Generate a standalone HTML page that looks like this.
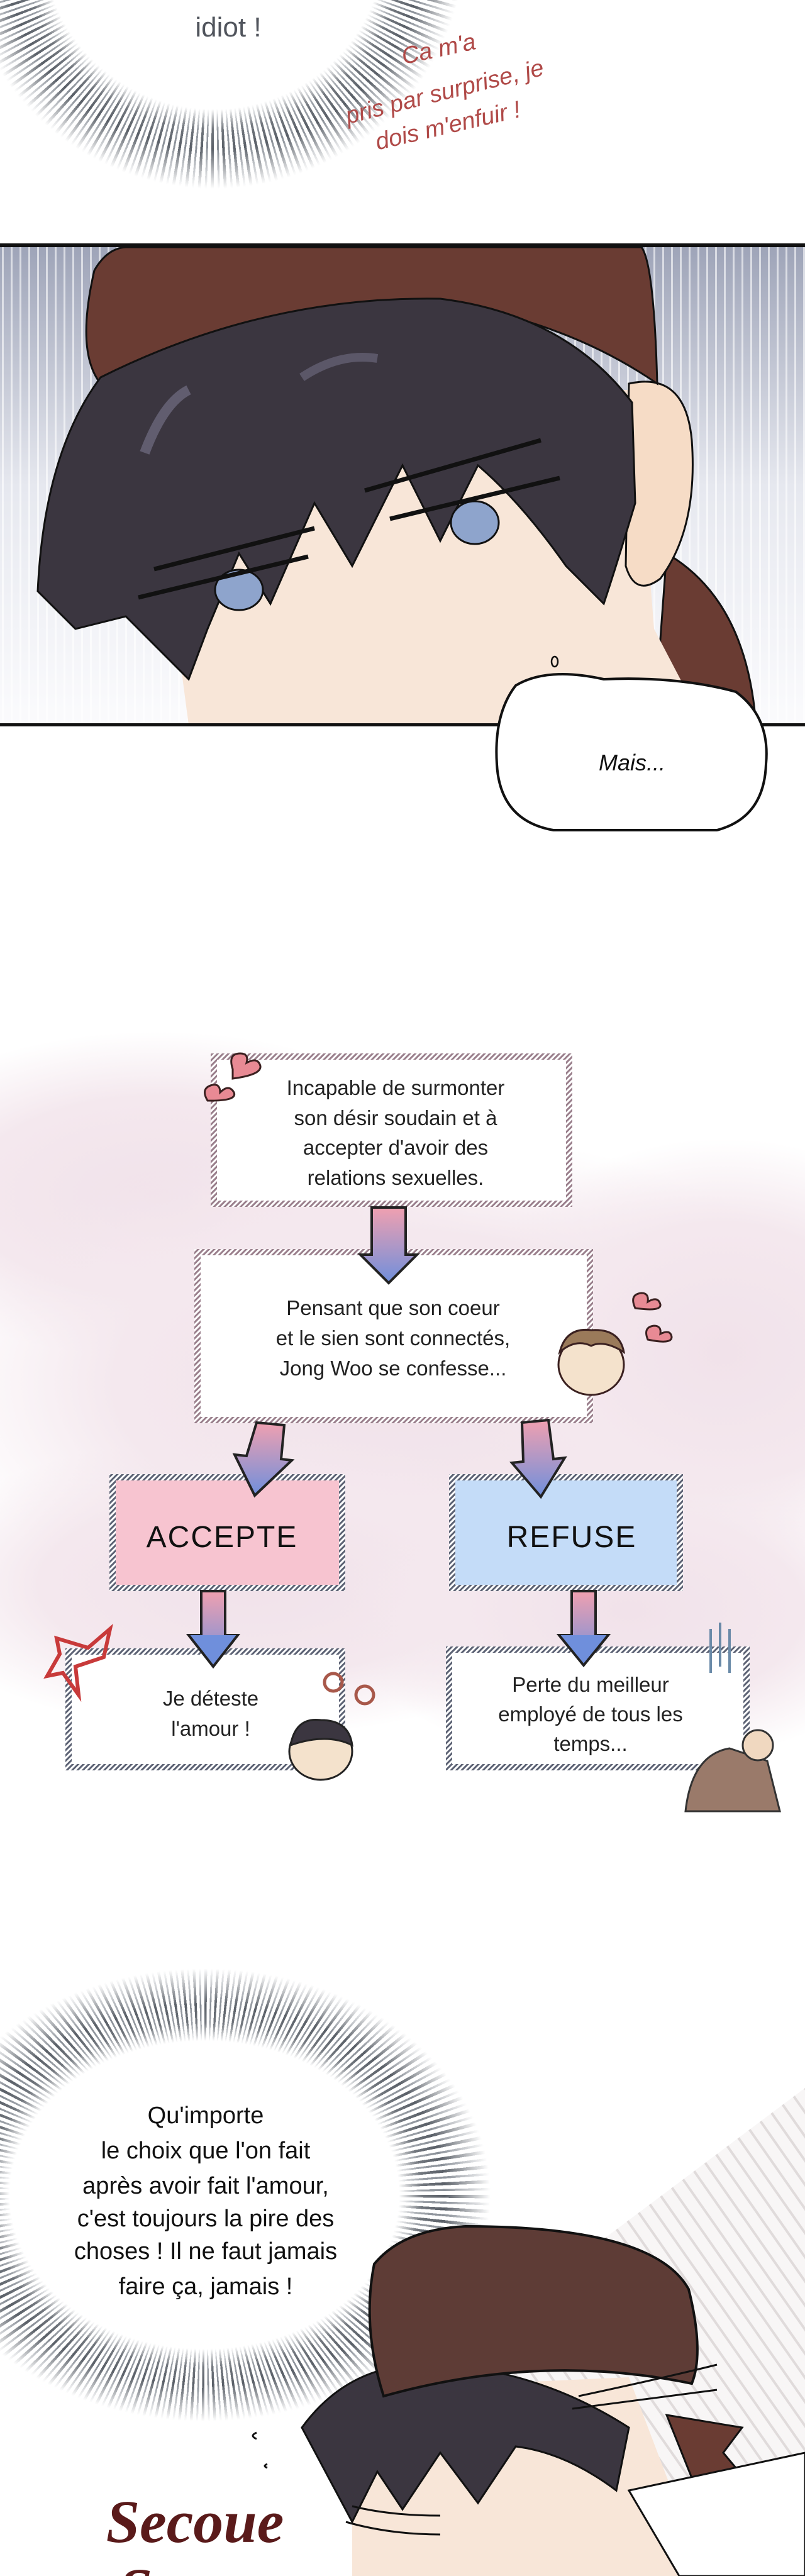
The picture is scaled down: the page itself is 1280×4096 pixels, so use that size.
<!DOCTYPE html>
<html><head><meta charset="utf-8"><style>
html,body{margin:0;padding:0;background:#fff}
body{width:1280px;height:4096px;position:relative;overflow:hidden;font-family:"Liberation Sans",sans-serif}
svg{position:absolute;left:0;top:0}
.burst{position:absolute;border-radius:50%;
background:repeating-conic-gradient(from 0deg,#5a6068 0deg 0.7deg,#ffffff 0.7deg 1.6deg,#8a9098 1.6deg 2.1deg,#fff 2.1deg 3deg);
-webkit-mask:radial-gradient(closest-side,transparent 68%,rgba(0,0,0,.85) 76%,#000 84%,transparent 100%);
mask:radial-gradient(closest-side,transparent 68%,rgba(0,0,0,.85) 76%,#000 84%,transparent 100%);}
</style></head><body>
<svg width="1280" height="4096" viewBox="0 0 1280 4096" xmlns="http://www.w3.org/2000/svg">
<defs>
<linearGradient id="panelbg" x1="0" y1="0" x2="0" y2="1">
<stop offset="0" stop-color="#9ea4b8"/><stop offset="0.5" stop-color="#e6e8ef"/><stop offset="1" stop-color="#fbfbfd"/>
</linearGradient>
<pattern id="vstripes" width="14" height="10" patternUnits="userSpaceOnUse">
<rect x="3" width="3" height="10" fill="#fff" opacity="0.6"/>
</pattern>
<linearGradient id="arr" x1="0" y1="0" x2="0" y2="1">
<stop offset="0" stop-color="#f0a0b0"/><stop offset="1" stop-color="#6f8fdc"/>
</linearGradient>
<pattern id="hatchP" width="6" height="6" patternUnits="userSpaceOnUse" patternTransform="rotate(45)">
<rect width="6" height="6" fill="#fff"/><rect width="3" height="6" fill="#9a7f8c"/>
</pattern>
<pattern id="hatchB" width="6" height="6" patternUnits="userSpaceOnUse" patternTransform="rotate(45)">
<rect width="6" height="6" fill="#fff"/><rect width="3" height="6" fill="#5c6274"/>
</pattern>
<radialGradient id="pinkcloud" cx="0.5" cy="0.5" r="0.5">
<stop offset="0" stop-color="#f1e2ea"/><stop offset="0.6" stop-color="#f4e8ee"/><stop offset="1" stop-color="#f4e8ee" stop-opacity="0"/>
</radialGradient>
<pattern id="diag" width="22" height="22" patternUnits="userSpaceOnUse" patternTransform="rotate(-35)">
<rect width="22" height="22" fill="#f6f4f4"/><rect width="4" height="22" fill="#d8d2d2"/>
</pattern>
</defs>

<!-- pink cloud background -->
<ellipse cx="250" cy="1900" rx="500" ry="260" fill="url(#pinkcloud)"/>
<ellipse cx="640" cy="2200" rx="760" ry="400" fill="url(#pinkcloud)"/>
<ellipse cx="1150" cy="2150" rx="420" ry="340" fill="url(#pinkcloud)"/>
<ellipse cx="400" cy="2520" rx="560" ry="240" fill="url(#pinkcloud)"/>
<ellipse cx="1000" cy="2560" rx="460" ry="250" fill="url(#pinkcloud)"/>

<!-- bottom diag bg -->
<path d="M960 3560 L1280 3320 L1280 4096 L600 4096 Z" fill="url(#diag)" opacity="0.8"/>
</svg>

<div class="burst" style="left:-60px;top:-490px;width:800px;height:790px"></div>
<div class="burst" style="left:-130px;top:3130px;width:910px;height:720px"></div>

<svg width="1280" height="4096" viewBox="0 0 1280 4096" xmlns="http://www.w3.org/2000/svg">
<defs>
<linearGradient id="panelbg2" x1="0" y1="0" x2="0" y2="1">
<stop offset="0" stop-color="#9ea4b8"/><stop offset="0.5" stop-color="#e6e8ef"/><stop offset="1" stop-color="#fbfbfd"/>
</linearGradient>
<pattern id="vstripes2" width="14" height="10" patternUnits="userSpaceOnUse">
<rect x="3" width="3" height="10" fill="#fff" opacity="0.6"/>
</pattern>
<linearGradient id="arr2" x1="0" y1="0" x2="0" y2="1">
<stop offset="0" stop-color="#f0a0b0"/><stop offset="1" stop-color="#6f8fdc"/>
</linearGradient>
<pattern id="hP" width="6" height="6" patternUnits="userSpaceOnUse" patternTransform="rotate(45)">
<rect width="6" height="6" fill="#fff"/><rect width="3" height="6" fill="#9a7f8c"/>
</pattern>
<pattern id="hB" width="6" height="6" patternUnits="userSpaceOnUse" patternTransform="rotate(45)">
<rect width="6" height="6" fill="#fff"/><rect width="3" height="6" fill="#5c6274"/>
</pattern>
</defs>
<text x="363" y="58" font-size="44" fill="#50545c" text-anchor="middle">idiot !</text>
<g fill="#b04a48" font-style="italic" font-size="38">
<text x="700" y="90" text-anchor="middle" transform="rotate(-12 700 90)">Ca m'a</text>
<text x="710" y="158" text-anchor="middle" transform="rotate(-14 710 158)">pris par surprise, je</text>
<text x="715" y="212" text-anchor="middle" transform="rotate(-13 715 212)">dois m'enfuir !</text>
</g>

<!-- panel 1 -->
<rect x="0" y="391" width="1280" height="762" fill="url(#panelbg2)"/>
<rect x="0" y="391" width="1280" height="762" fill="url(#vstripes2)"/>
<path d="M1060 880 Q1180 950 1200 1130 L1120 1153 L1040 1153 Z" fill="#6a3c33" stroke="#111" stroke-width="3"/>
<path d="M230 620 L1010 620 L1040 1000 L1120 1153 L300 1153 Z" fill="#f8e6d8"/>
<path d="M1000 610 Q1090 590 1100 700 Q1110 840 1050 920 Q1010 950 995 900 Z" fill="#f6dcc6" stroke="#111" stroke-width="3"/>
<path d="M150 430 Q170 395 200 393 L1020 393 Q1040 420 1045 610 Q900 510 700 480 Q450 480 160 610 Q120 560 150 430 Z" fill="#6a3c33" stroke="#111" stroke-width="3"/>
<path d="M160 600 Q420 470 700 475 Q900 500 1005 640 L1010 800 Q980 900 960 960 L900 900 Q830 800 760 740 L700 860 L640 740 L560 900 L500 800 L430 960 L380 880 L330 1000 L300 1080 L200 980 L120 1000 L60 940 Q70 720 160 600 Z" fill="#3b3640" stroke="#111" stroke-width="3"/>
<path d="M230 720 Q260 640 300 620" stroke="#7c7890" stroke-width="16" fill="none" opacity="0.6"/>
<path d="M480 600 Q540 560 600 570" stroke="#7c7890" stroke-width="14" fill="none" opacity="0.5"/>
<ellipse cx="380" cy="938" rx="38" ry="32" fill="#8ea4cc" stroke="#111" stroke-width="3"/>
<ellipse cx="755" cy="831" rx="38" ry="34" fill="#8ea4cc" stroke="#111" stroke-width="3"/>
<path d="M245 905 L500 840 M220 950 L490 885" stroke="#111" stroke-width="7"/>
<path d="M580 780 L860 700 M620 825 L890 760" stroke="#111" stroke-width="7"/>
<ellipse cx="882" cy="1052" rx="5" ry="8" fill="none" stroke="#111" stroke-width="2.5"/>
<rect x="0" y="387" width="1280" height="6" fill="#111"/>
<rect x="0" y="1150" width="1280" height="5" fill="#111"/>
<path d="M820 1090 Q870 1060 960 1080 Q1080 1075 1170 1100 Q1225 1140 1218 1215 Q1215 1300 1140 1320 L880 1320 Q795 1305 790 1215 Q785 1135 820 1090 Z" fill="#fff" stroke="#111" stroke-width="4"/>
<text x="1005" y="1225" font-size="36" font-style="italic" fill="#111" text-anchor="middle">Mais...</text>

<!-- box1 -->
<rect x="335" y="1675" width="575" height="244" fill="url(#hP)"/>
<rect x="345" y="1685" width="555" height="224" fill="#fff"/>
<g font-size="33" fill="#222" text-anchor="middle">
<text x="629" y="1741">Incapable de surmonter</text>
<text x="629" y="1789">son désir soudain et à</text>
<text x="629" y="1836">accepter d'avoir des</text>
<text x="629" y="1884">relations sexuelles.</text>
</g>
<rect x="309" y="1986" width="634" height="277" fill="url(#hP)"/>
<rect x="319" y="1996" width="614" height="257" fill="#fff"/>
<g font-size="33" fill="#222" text-anchor="middle">
<text x="625" y="2091">Pensant que son coeur</text>
<text x="625" y="2139">et le sien sont connectés,</text>
<text x="625" y="2187">Jong Woo se confesse...</text>
</g>
<path d="M591 1920 L645 1920 L645 1995 L663 1995 L618 2040 L573 1995 L591 1995 Z" fill="url(#arr2)" stroke="#222" stroke-width="4"/>
<rect x="174" y="2344" width="375" height="186" fill="url(#hB)"/>
<rect x="184" y="2354" width="355" height="166" fill="#f7c4d0"/>
<rect x="714" y="2344" width="372" height="186" fill="url(#hB)"/>
<rect x="724" y="2354" width="352" height="166" fill="#c4dcf8"/>
<text x="353" y="2460" font-size="48" fill="#111" text-anchor="middle" letter-spacing="2">ACCEPTE</text>
<text x="909" y="2460" font-size="48" fill="#111" text-anchor="middle" letter-spacing="2">REFUSE</text>
<path d="M408 2262 L452 2266 L447 2320 L464 2322 L405 2378 L373 2313 L392 2315 Z" fill="url(#arr2)" stroke="#222" stroke-width="4"/>
<path d="M830 2262 L872 2258 L880 2320 L898 2318 L860 2380 L814 2326 L832 2324 Z" fill="url(#arr2)" stroke="#222" stroke-width="4"/>
<path d="M320 2530 L358 2530 L358 2600 L378 2600 L339 2650 L300 2600 L320 2600 Z" fill="url(#arr2)" stroke="#222" stroke-width="4"/>
<path d="M909 2530 L947 2530 L947 2600 L967 2600 L928 2648 L889 2600 L909 2600 Z" fill="url(#arr2)" stroke="#222" stroke-width="4"/>
<rect x="104" y="2621" width="445" height="194" fill="url(#hB)"/>
<rect x="114" y="2631" width="425" height="174" fill="#fff"/>
<rect x="709" y="2618" width="483" height="197" fill="url(#hB)"/>
<rect x="719" y="2628" width="463" height="177" fill="#fff"/>
<g font-size="33" fill="#222" text-anchor="middle">
<text x="335" y="2712">Je déteste</text>
<text x="335" y="2760">l'amour !</text>
<text x="939" y="2690">Perte du meilleur</text>
<text x="939" y="2737">employé de tous les</text>
<text x="939" y="2784">temps...</text>
</g>
<path d="M300 2600 L339 2650 L378 2600" fill="#6f8fdc" stroke="#222" stroke-width="4"/>
<path d="M889 2600 L928 2648 L967 2600" fill="#6f8fdc" stroke="#222" stroke-width="4"/>
<g fill="#e88a94" stroke="#3a2020" stroke-width="3">
<path d="M370 1700 q-8 -25 12 -25 q14 0 10 15 q18 -10 22 5 q2 14 -44 20z"/>
<path d="M330 1750 q-12 -20 8 -25 q12 -2 12 12 q14 -14 22 0 q6 14 -42 13z"/>
<path d="M1010 2080 q-10 -22 10 -24 q12 0 10 14 q16 -10 20 4 q2 12 -40 6z"/>
<path d="M1030 2130 q-8 -20 10 -22 q12 0 10 13 q16 -8 18 5 q0 12 -38 4z"/>
</g>
<ellipse cx="940" cy="2170" rx="52" ry="48" fill="#f4e2cc" stroke="#3a2020" stroke-width="3"/>
<path d="M890 2150 Q900 2110 940 2115 Q985 2112 992 2150 Q960 2130 940 2140 Q915 2128 890 2150Z" fill="#9a7a5a" stroke="#3a2020" stroke-width="3"/>
<path d="M90 2605 L140 2620 L175 2590 L165 2635 L120 2650 L125 2695 L100 2660 L75 2665 L95 2630 Z" fill="none" stroke="#c83a3a" stroke-width="6"/>
<ellipse cx="510" cy="2785" rx="50" ry="45" fill="#f4e2cc" stroke="#222" stroke-width="3"/>
<path d="M462 2775 Q470 2730 510 2735 Q555 2735 560 2775 Q520 2755 462 2775Z" fill="#3b3640" stroke="#222" stroke-width="3"/>
<g fill="none" stroke="#a8584a" stroke-width="5"><circle cx="530" cy="2675" r="14"/><circle cx="580" cy="2695" r="14"/></g>
<path d="M1090 2880 Q1100 2790 1160 2780 L1220 2800 L1240 2880 Z" fill="#9a7a6a" stroke="#333" stroke-width="3"/>
<circle cx="1205" cy="2775" r="24" fill="#f0d8c0" stroke="#333" stroke-width="3"/>
<g stroke="#6a8aa8" stroke-width="4"><line x1="1130" y1="2590" x2="1130" y2="2660"/><line x1="1145" y1="2580" x2="1145" y2="2650"/><line x1="1160" y1="2590" x2="1160" y2="2660"/></g>

<!-- bottom -->
<g font-size="38" fill="#111" text-anchor="middle">
<text x="327" y="3376">Qu'importe</text>
<text x="327" y="3432">le choix que l'on fait</text>
<text x="327" y="3488">après avoir fait l'amour,</text>
<text x="327" y="3540">c'est toujours la pire des</text>
<text x="327" y="3592">choses ! Il ne faut jamais</text>
<text x="327" y="3648">faire ça, jamais !</text>
</g>
<path d="M560 4096 L560 3800 L1000 3780 L1120 4096 Z" fill="#f8e6d8"/>
<path d="M1060 3840 L1180 3860 L1150 3900 L1200 3960 L1100 3940 Z" fill="#6a3c33" stroke="#111" stroke-width="3"/>
<path d="M1000 3960 L1280 3900 L1280 4096 L1080 4096 Z" fill="#fff" stroke="#111" stroke-width="3"/>
<path d="M480 3860 Q560 3750 700 3760 Q860 3770 1000 3860 L980 3960 Q900 3900 820 3890 L760 3980 L700 3900 L640 3990 L600 3930 L560 4010 Z" fill="#3b3640" stroke="#111" stroke-width="3"/>
<path d="M595 3600 Q640 3545 740 3540 Q1040 3540 1095 3640 Q1120 3740 1100 3790 Q860 3740 610 3810 Q575 3700 595 3600 Z" fill="#5e3c36" stroke="#111" stroke-width="4"/>
<g fill="none" stroke="#111" stroke-width="3">
<path d="M920 3810 Q1060 3780 1140 3760"/><path d="M910 3830 Q1060 3810 1140 3800"/>
<path d="M560 3985 Q620 4000 700 4000"/><path d="M550 4010 Q620 4030 700 4030"/>
<path d="M408 3868 q-12 5 0 10"/><path d="M425 3918 q-8 3 0 6"/>
</g>
<g font-family="Liberation Serif, serif" font-style="italic" font-weight="bold" fill="#5a1a1a">
<text x="310" y="4042" font-size="96" text-anchor="middle">Secoue</text>
<text x="330" y="4150" font-size="96" text-anchor="middle">Secoue</text>
</g>
</svg>
</body></html>
